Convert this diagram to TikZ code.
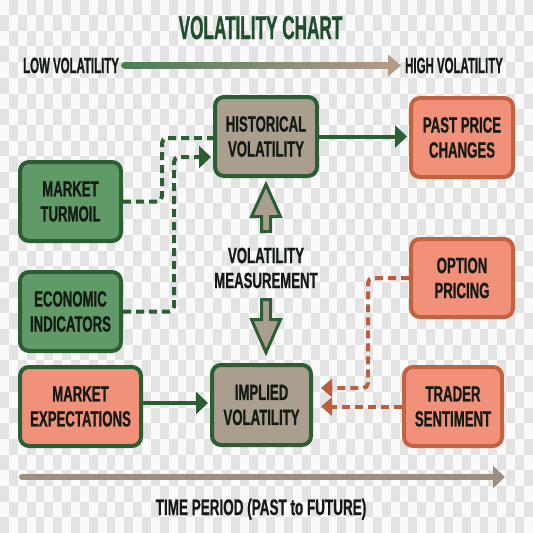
\documentclass[tikz,border=0pt]{standalone}
\usepackage{fontspec}
\setmainfont{Liberation Sans}
\newfontfamily\boxfont{Liberation Sans}[FakeStretch=0.6,FakeBold=0.8]
\newfontfamily\narrowfont{Liberation Sans}[FakeStretch=0.52,FakeBold=0.8]
\usetikzlibrary{arrows.meta}
\definecolor{dkgreen}{HTML}{2C5E34}
\definecolor{titlegreen}{HTML}{1F4F2A}
\definecolor{midgreen}{HTML}{5F9A67}
\definecolor{tanfill}{HTML}{AA9E8E}
\definecolor{salmon}{HTML}{F1917A}
\definecolor{rust}{HTML}{C2623F}
\definecolor{rustdash}{HTML}{BA5F3E}
\definecolor{txt}{HTML}{141A14}
\definecolor{timecol}{HTML}{9D8F80}
\definecolor{gradA}{HTML}{4B7D55}
\definecolor{gradM}{HTML}{8E8A70}
\definecolor{gradB}{HTML}{B59A8A}
\definecolor{chk}{HTML}{E3E3E3}
\definecolor{bgw}{HTML}{FAFAFA}
\tikzset{
  box/.style={rounded corners=9pt, line width=4pt, align=center, text=txt,
    font=\boxfont\bfseries\fontsize{22}{25}\selectfont, inner sep=0pt,
    minimum height=79pt},
  greenbox/.style={box, draw=dkgreen, fill=midgreen},
  tanbox/.style={box, draw=dkgreen, fill=tanfill},
  salbox/.style={box, draw=rust, fill=salmon},
  salgbox/.style={box, draw=dkgreen, fill=salmon},
  garrow/.style={draw=dkgreen, line width=4pt, -{Triangle[length=12pt,width=22pt]}},
  gdash/.style={draw=dkgreen, line width=4pt, dash pattern=on 8pt off 5pt, rounded corners=5pt},
  rdash/.style={draw=rustdash, line width=4pt, dash pattern=on 8pt off 5pt, rounded corners=5pt,
    -{Triangle[length=11pt,width=18pt]}},
  blockarrow/.style={draw=dkgreen, fill=tanfill, line width=3pt, line join=miter},
  lbl/.style={text=txt, inner sep=0pt},
}
\begin{document}
\begin{tikzpicture}[x=1pt,y=-1pt]
\useasboundingbox (0,0) rectangle (533,533);
% background checkerboard
\begin{scope}
\clip (0,0) rectangle (533,533);
\fill[bgw] (0,0) rectangle (533,533);
\foreach \j in {0,...,35} {
  \pgfmathsetmacro\yy{15+15.7*(\j-1)}
  \pgfmathtruncatemacro\off{mod(\j+1,2)}
  \foreach \i in {0,2,...,60} {
    \fill[chk] ({(\i+\off)*8.88},\yy) rectangle ++(8.88,15.7);
  }
}
\end{scope}

% title and scale
\node[lbl, text=titlegreen, anchor=base, font=\narrowfont\bfseries\fontsize{33}{33}\selectfont] (title) at (260.5,39) {VOLATILITY CHART};
\node[lbl, anchor=base west, font=\narrowfont\bfseries\fontsize{22}{22}\selectfont] (low) at (23,73) {LOW VOLATILITY};
\node[lbl, anchor=base west, font=\narrowfont\bfseries\fontsize{22}{22}\selectfont] (high) at (405,73) {HIGH VOLATILITY};
\shade[left color=gradA, middle color=gradM, right color=gradB] ([xshift=5pt,yshift=-3pt]low.east) rectangle ([xshift=-16pt,yshift=3pt]high.west);
\fill[gradA] ([xshift=5pt]low.east) circle (3pt);
\fill[gradB] ([xshift=-4pt]high.west) -- ([xshift=-17pt,yshift=11pt]high.west) -- ([xshift=-17pt,yshift=-11pt]high.west) -- cycle;

% boxes
\node[tanbox, minimum width=102pt] (hv) at (266,136.5) {HISTORICAL\\VOLATILITY};
\node[salbox, minimum width=102pt] (ppc) at (462,137.5) {PAST PRICE\\CHANGES};
\node[greenbox, minimum width=101pt] (mt) at (70.5,201.5) {MARKET\\TURMOIL};
\node[greenbox, minimum width=101pt] (ei) at (70.5,311.5) {ECONOMIC\\INDICATORS};
\node[salbox, minimum width=102pt, minimum height=78pt] (op) at (462,278) {OPTION\\PRICING};
\node[salgbox, minimum width=121pt] (me) at (80.5,406.5) {MARKET\\EXPECTATIONS};
\node[tanbox, minimum width=99pt, minimum height=80pt] (iv) at (261.5,405) {IMPLIED\\VOLATILITY};
\node[salbox, minimum width=98pt] (ts) at (453,406.5) {TRADER\\SENTIMENT};

% measurement label and block arrows
\node[lbl, align=center, font=\boxfont\bfseries\fontsize{22}{25}\selectfont] (meas) at (266,268) {VOLATILITY\\MEASUREMENT};
\draw[blockarrow] (266,184.5) -- (280.5,216.5) -- (270.5,216.5) -- (270.5,231.5) -- (261.5,231.5) -- (261.5,216.5) -- (251.5,216.5) -- cycle;
\draw[blockarrow] (261.5,299.5) -- (270.5,299.5) -- (270.5,319.5) -- (280.5,319.5) -- (266,352.5) -- (251.5,319.5) -- (261.5,319.5) -- cycle;

% helper coordinates
\coordinate (hvin1) at ([yshift=-1.5pt]hv.west);
\coordinate (hvin2) at ([xshift=-2pt,yshift=-20.5pt]hv.west);
\coordinate (ppcin) at ([xshift=-2pt]ppc.west);
\coordinate (ivin) at ([xshift=-2pt]iv.west);
\coordinate (mes) at ([yshift=3.5pt]me.east);
\coordinate (ivr1) at ([xshift=8pt,yshift=17pt]iv.east);
\coordinate (ivr) at ([xshift=8pt]iv.east);

% connectors
\draw[gdash] (mt.east) -- ++(39,0) |- (hvin1);
\draw[gdash, -{Triangle[length=12pt,width=22pt]}] (ei.east) -- ++(51,0) |- (hvin2);
\draw[garrow] (hv.east) -- (hv.east -| ppcin);
\draw[garrow] (mes) -- (mes -| ivin);
\draw[rdash] (op.west) -- ++(-41,0) |- (ivr1);
\draw[rdash] (ts.west) -- (ts.west -| ivr);

% time axis
\coordinate (tstart) at (22,477);
\coordinate (tend) at (505,477);
\draw[draw=timecol, line width=6pt, line cap=round, -{Triangle[length=12pt,width=22pt]}] (tstart) -- (tend);
\node[lbl, anchor=base, font=\boxfont\bfseries\fontsize{22.5}{25}\selectfont] (time) at (261,515) {TIME PERIOD (PAST to FUTURE)};
\end{tikzpicture}
\end{document}
